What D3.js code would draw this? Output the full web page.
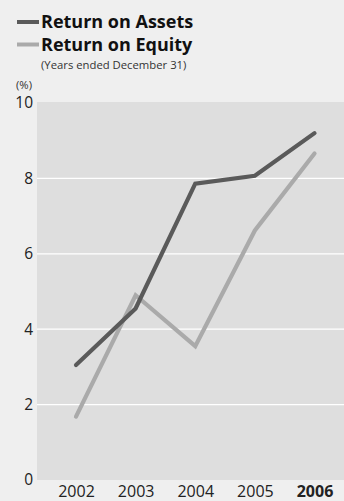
<!DOCTYPE html>
<html><head><meta charset="utf-8">
<script src="https://cdn.jsdelivr.net/npm/d3@7"></script>
<style>html,body{margin:0;padding:0;background:#efefef;}svg{display:block;}</style>
</head><body>
<svg id="c" width="344" height="501"></svg>
<script>
const years = ["2002","2003","2004","2005","2006"];
const roa = [3.05, 4.55, 7.86, 8.07, 9.2];
const roe = [1.68, 4.9, 3.55, 6.62, 8.66];
const yTicks = [0,2,4,6,8,10];
const seriesNames = ["Return on Assets","Return on Equity"];
const colors = ["#5a5a5a","#aaaaaa"];

const svg = d3.select("#c");
const font = "'Open Sans', 'DejaVu Sans', sans-serif";
const plot = {left:37, right:344, top:103, bottom:480};

const x = d3.scalePoint().domain(years).range([76, 314.5]);
const y = d3.scaleLinear().domain([0,10]).range([plot.bottom, plot.top]);

svg.append("rect").attr("x",plot.left).attr("y",plot.top-1)
  .attr("width",plot.right-plot.left).attr("height",plot.bottom-plot.top+1).attr("fill","#dedede");

// gridlines
svg.append("g").selectAll("line").data(yTicks.filter(d=>d>0 && d<10)).join("line")
  .attr("x1",plot.left).attr("x2",plot.right)
  .attr("y1",d=>y(d)).attr("y2",d=>y(d))
  .attr("stroke","#ffffff").attr("stroke-width",1.2);

// y axis
const ya = svg.append("g").attr("transform",`translate(${plot.left},0)`)
  .call(d3.axisLeft(y).tickValues(yTicks).tickSize(0).tickPadding(4).tickFormat(d3.format("d")));
ya.select(".domain").remove();
ya.selectAll("text").attr("font-family",font).attr("font-size",15.5).attr("fill","#222");

// x axis
const xa = svg.append("g").attr("transform",`translate(0,${plot.bottom})`)
  .call(d3.axisBottom(x).tickSize(0).tickPadding(6));
xa.select(".domain").remove();
xa.selectAll("text").attr("font-family",font).attr("font-size",16).attr("fill","#222")
  .attr("font-weight",d=>d==="2006"?"bold":"normal");

// lines
const line = d3.line().x((d,i)=>x(years[i])).y(d=>y(d));
[roe, roa].forEach((s,k)=>{
  const c = k===0 ? colors[1] : colors[0];
  svg.append("path").attr("d",line(s)).attr("fill","none")
    .attr("stroke",c).attr("stroke-width",4.2)
    .attr("stroke-linecap","round").attr("stroke-linejoin","miter");
});

// legend
seriesNames.forEach((n,i)=>{
  const yy = 22 + i*22.5;
  svg.append("line").attr("x1",17).attr("x2",39).attr("y1",yy).attr("y2",yy)
    .attr("stroke",colors[i]).attr("stroke-width",4);
  svg.append("text").attr("x",41).attr("y",yy+6.3).text(n)
    .attr("font-family",font).attr("font-weight","bold").attr("font-size",18).attr("fill","#111");
});
svg.append("text").attr("x",41).attr("y",68.5).text("(Years ended December 31)")
  .attr("font-family",font).attr("font-size",11.3).attr("fill","#333");
svg.append("text").attr("x",16).attr("y",88.5).text("(%)")
  .attr("font-family",font).attr("font-size",11.3).attr("fill","#333");
</script>
</body></html>
